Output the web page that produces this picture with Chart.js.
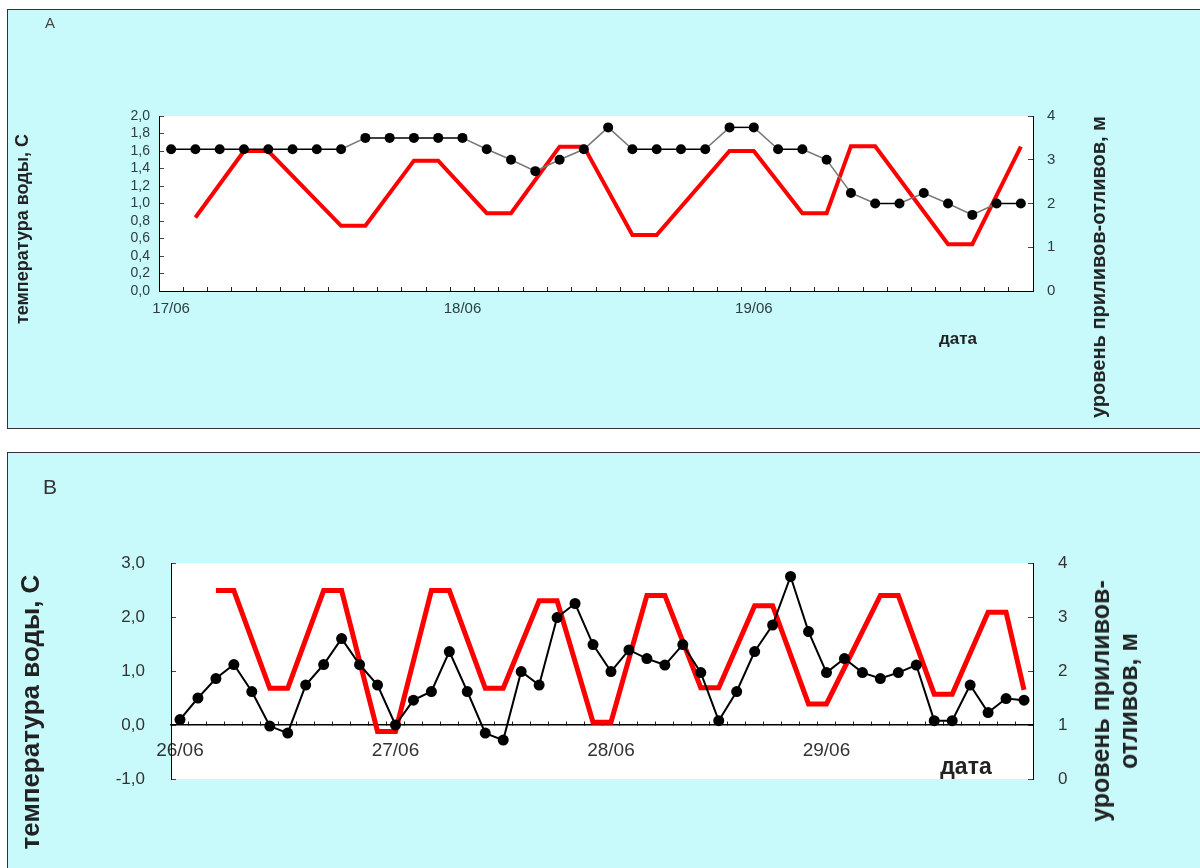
<!DOCTYPE html>
<html>
<head>
<meta charset="utf-8">
<script src="https://cdn.jsdelivr.net/npm/chart.js@4.4.1/dist/chart.umd.min.js"></script>
<style>
  body { margin: 0; background: #fff; width: 1200px; height: 868px; overflow: hidden; position: relative;
         font-family: "Liberation Sans", Arial, sans-serif; }
  .panel { position: absolute; background: #c8fafc; border: 1.5px solid #333; box-sizing: border-box; }
  canvas { position: absolute; left: 0; }
  .lbl { position: absolute; color: #222; white-space: nowrap; line-height: 1; z-index: 2; }
  .mid { transform: translate(-50%, -50%); font-weight: bold; }
  .rot { transform: translate(-50%, -50%) rotate(-90deg); font-weight: bold; text-align: center; }
</style>
</head>
<body>
<div class="panel" style="left:7px; top:9px; width:1210px; height:420px;"></div>
<div class="panel" style="left:7px; top:452px; width:1210px; height:440px;"></div>

<canvas id="chartA" width="1200" height="430" style="top:0;"></canvas>
<canvas id="chartB" width="1200" height="428" style="top:440px;"></canvas>

<div class="lbl" style="left:45px; top:15px; font-size:15px; color:#444;">A</div>
<div class="lbl rot" style="left:22px; top:229px; font-size:18px;">температура воды, С</div>
<div class="lbl rot" style="left:1098px; top:267px; font-size:20px;">уровень приливов-отливов, м</div>
<div class="lbl mid" style="left:958px; top:338px; font-size:17px;">дата</div>

<div class="lbl" style="left:43px; top:476px; font-size:21px; color:#333;">B</div>
<div class="lbl rot" style="left:30px; top:712px; font-size:26px;">температура воды, С</div>
<div class="lbl rot" style="left:1114px; top:701px; font-size:25px; line-height:28px;">уровень приливов-<br>отливов, м</div>
<div class="lbl mid" style="left:966px; top:766px; font-size:23px;">дата</div>

<script>
// panel A: 17/06 - 19/06, every 2 hours
const daysA = ['17/06', '18/06', '19/06'];
const tempA = [1.62, 1.62, 1.62, 1.62, 1.62, 1.62, 1.62, 1.62, 1.75, 1.75, 1.75, 1.75,
               1.75, 1.62, 1.5, 1.37, 1.5, 1.62, 1.87, 1.62, 1.62, 1.62, 1.62, 1.87,
               1.87, 1.62, 1.62, 1.5, 1.12, 1.0, 1.0, 1.12, 1.0, 0.87, 1.0, 1.0];
const tideA = [null, 1.68, null, 3.2, 3.2, null, null, 1.49, 1.49, null, 2.98, 2.98,
               null, 1.78, 1.78, null, 3.3, 3.3, null, 1.28, 1.28, null, null, 3.2,
               3.2, null, 1.78, 1.78, 3.31, 3.31, null, null, 1.07, 1.07, null, 3.3];

// panel B: 26/06 - 29/06, every 2 hours
const daysB = ['26/06', '27/06', '28/06', '29/06'];
const tempB = [0.1, 0.5, 0.86, 1.12, 0.62, -0.02, -0.15, 0.74, 1.12, 1.6, 1.12, 0.74,
               0.0, 0.46, 0.62, 1.36, 0.62, -0.15, -0.28, 0.99, 0.74, 1.99, 2.25, 1.49,
               0.99, 1.39, 1.23, 1.11, 1.49, 0.97, 0.08, 0.62, 1.36, 1.85, 2.75, 1.73,
               0.97, 1.23, 0.97, 0.86, 0.97, 1.11, 0.08, 0.08, 0.74, 0.23, 0.49, 0.46];
const tideB = [null, null, 3.49, 3.49, null, 1.68, 1.68, null, 3.49, 3.49, null, 0.88,
               0.88, null, 3.49, 3.49, null, 1.68, 1.68, null, 3.3, 3.3, null, 1.05,
               1.05, null, 3.4, 3.4, null, 1.69, 1.69, null, 3.21, 3.21, null, 1.39,
               1.39, null, null, 3.4, 3.4, null, 1.57, 1.57, null, 3.09, 3.09, 1.65];

const perDay = 12;

Chart.defaults.font.family = '"Liberation Sans", Arial, sans-serif';
Chart.defaults.animation = false;

const plotBg = {
    id: 'plotBg',
    beforeDraw(chart) {
        const { ctx, chartArea: a } = chart;
        ctx.save();
        ctx.fillStyle = '#fff';
        ctx.fillRect(a.left, a.top, a.width, a.height);
        ctx.restore();
    }
};

function dayLabels(days, n) {
    return Array.from({ length: n }, (_, i) => (i % perDay === 0 ? days[i / perDay] : ''));
}

const comma = v => v.toFixed(1).replace('.', ',');

// ---- chart A ----
new Chart(document.getElementById('chartA'), {
    type: 'line',
    data: {
        labels: dayLabels(daysA, tempA.length),
        datasets: [{
            data: tempA,
            yAxisID: 'y',
            borderWidth: 1.5,
            borderColor: '#777',
            segment: {
                borderColor: c => (c.p0.parsed.y === c.p1.parsed.y ? '#000' : '#777')
            },
            pointRadius: 5,
            pointBorderWidth: 0,
            pointBackgroundColor: '#000',
            tension: 0
        }, {
            data: tideA,
            yAxisID: 'y1',
            borderColor: '#f00',
            borderWidth: 4,
            pointRadius: 0,
            spanGaps: true,
            tension: 0
        }]
    },
    options: {
        responsive: false,
        layout: { padding: { top: 116, left: 0, right: 0, bottom: 0 } },
        plugins: { legend: { display: false }, tooltip: { enabled: false } },
        scales: {
            x: {
                offset: true,
                grid: { offset: true, drawOnChartArea: false, tickLength: -4, color: '#222' },
                border: { color: '#000', width: 1 },
                ticks: { autoSkip: false, maxRotation: 0, padding: 13, color: '#2d3d40', font: { size: 15 } },
                afterFit: s => { s.height = 139; }
            },
            y: {
                position: 'left',
                min: 0, max: 2,
                grid: { drawOnChartArea: false, tickLength: -5, color: '#444' },
                border: { color: '#000', width: 1 },
                ticks: { stepSize: 0.2, autoSkip: false, padding: 14, color: '#2d3d40', font: { size: 14 }, callback: comma },
                afterFit: s => { s.width = 159; }
            },
            y1: {
                position: 'right',
                min: 0, max: 4,
                grid: { drawOnChartArea: false, tickLength: -5, color: '#444' },
                border: { color: '#000', width: 1 },
                ticks: { stepSize: 1, padding: 19, color: '#2d3d40', font: { size: 15 } },
                afterFit: s => { s.width = 167; }
            }
        }
    },
    plugins: [plotBg]
});

// ---- chart B ----
new Chart(document.getElementById('chartB'), {
    type: 'line',
    data: {
        labels: dayLabels(daysB, tempB.length),
        datasets: [{
            data: tempB,
            yAxisID: 'y',
            borderWidth: 2,
            borderColor: '#000',
            pointRadius: 5.5,
            pointBorderWidth: 0,
            pointBackgroundColor: '#000',
            tension: 0
        }, {
            data: tideB,
            yAxisID: 'y1',
            borderColor: '#f00',
            borderWidth: 5,
            pointRadius: 0,
            spanGaps: true,
            tension: 0
        }]
    },
    options: {
        responsive: false,
        layout: { padding: { top: 123, left: 0, right: 0, bottom: 89 } },
        plugins: { legend: { display: false }, tooltip: { enabled: false } },
        scales: {
            x: {
                position: { y: 0 },
                offset: true,
                grid: { offset: true, drawOnChartArea: false, tickLength: -4, color: '#222' },
                border: { color: '#000', width: 1.5 },
                ticks: { autoSkip: false, maxRotation: 0, padding: 18, color: '#333', font: { size: 19 } }
            },
            y: {
                position: 'left',
                min: -1, max: 3,
                grid: { drawOnChartArea: false, tickLength: -5, color: '#444' },
                border: { color: '#000', width: 1 },
                ticks: { stepSize: 1, padding: 31, color: '#333', font: { size: 17 }, callback: comma },
                afterFit: s => { s.width = 171; }
            },
            y1: {
                position: 'right',
                min: 0, max: 4,
                grid: { drawOnChartArea: false, tickLength: -5, color: '#444' },
                border: { color: '#000', width: 1 },
                ticks: { stepSize: 1, padding: 30, color: '#333', font: { size: 17 } },
                afterFit: s => { s.width = 167; }
            }
        }
    },
    plugins: [plotBg]
});
</script>
</body>
</html>
